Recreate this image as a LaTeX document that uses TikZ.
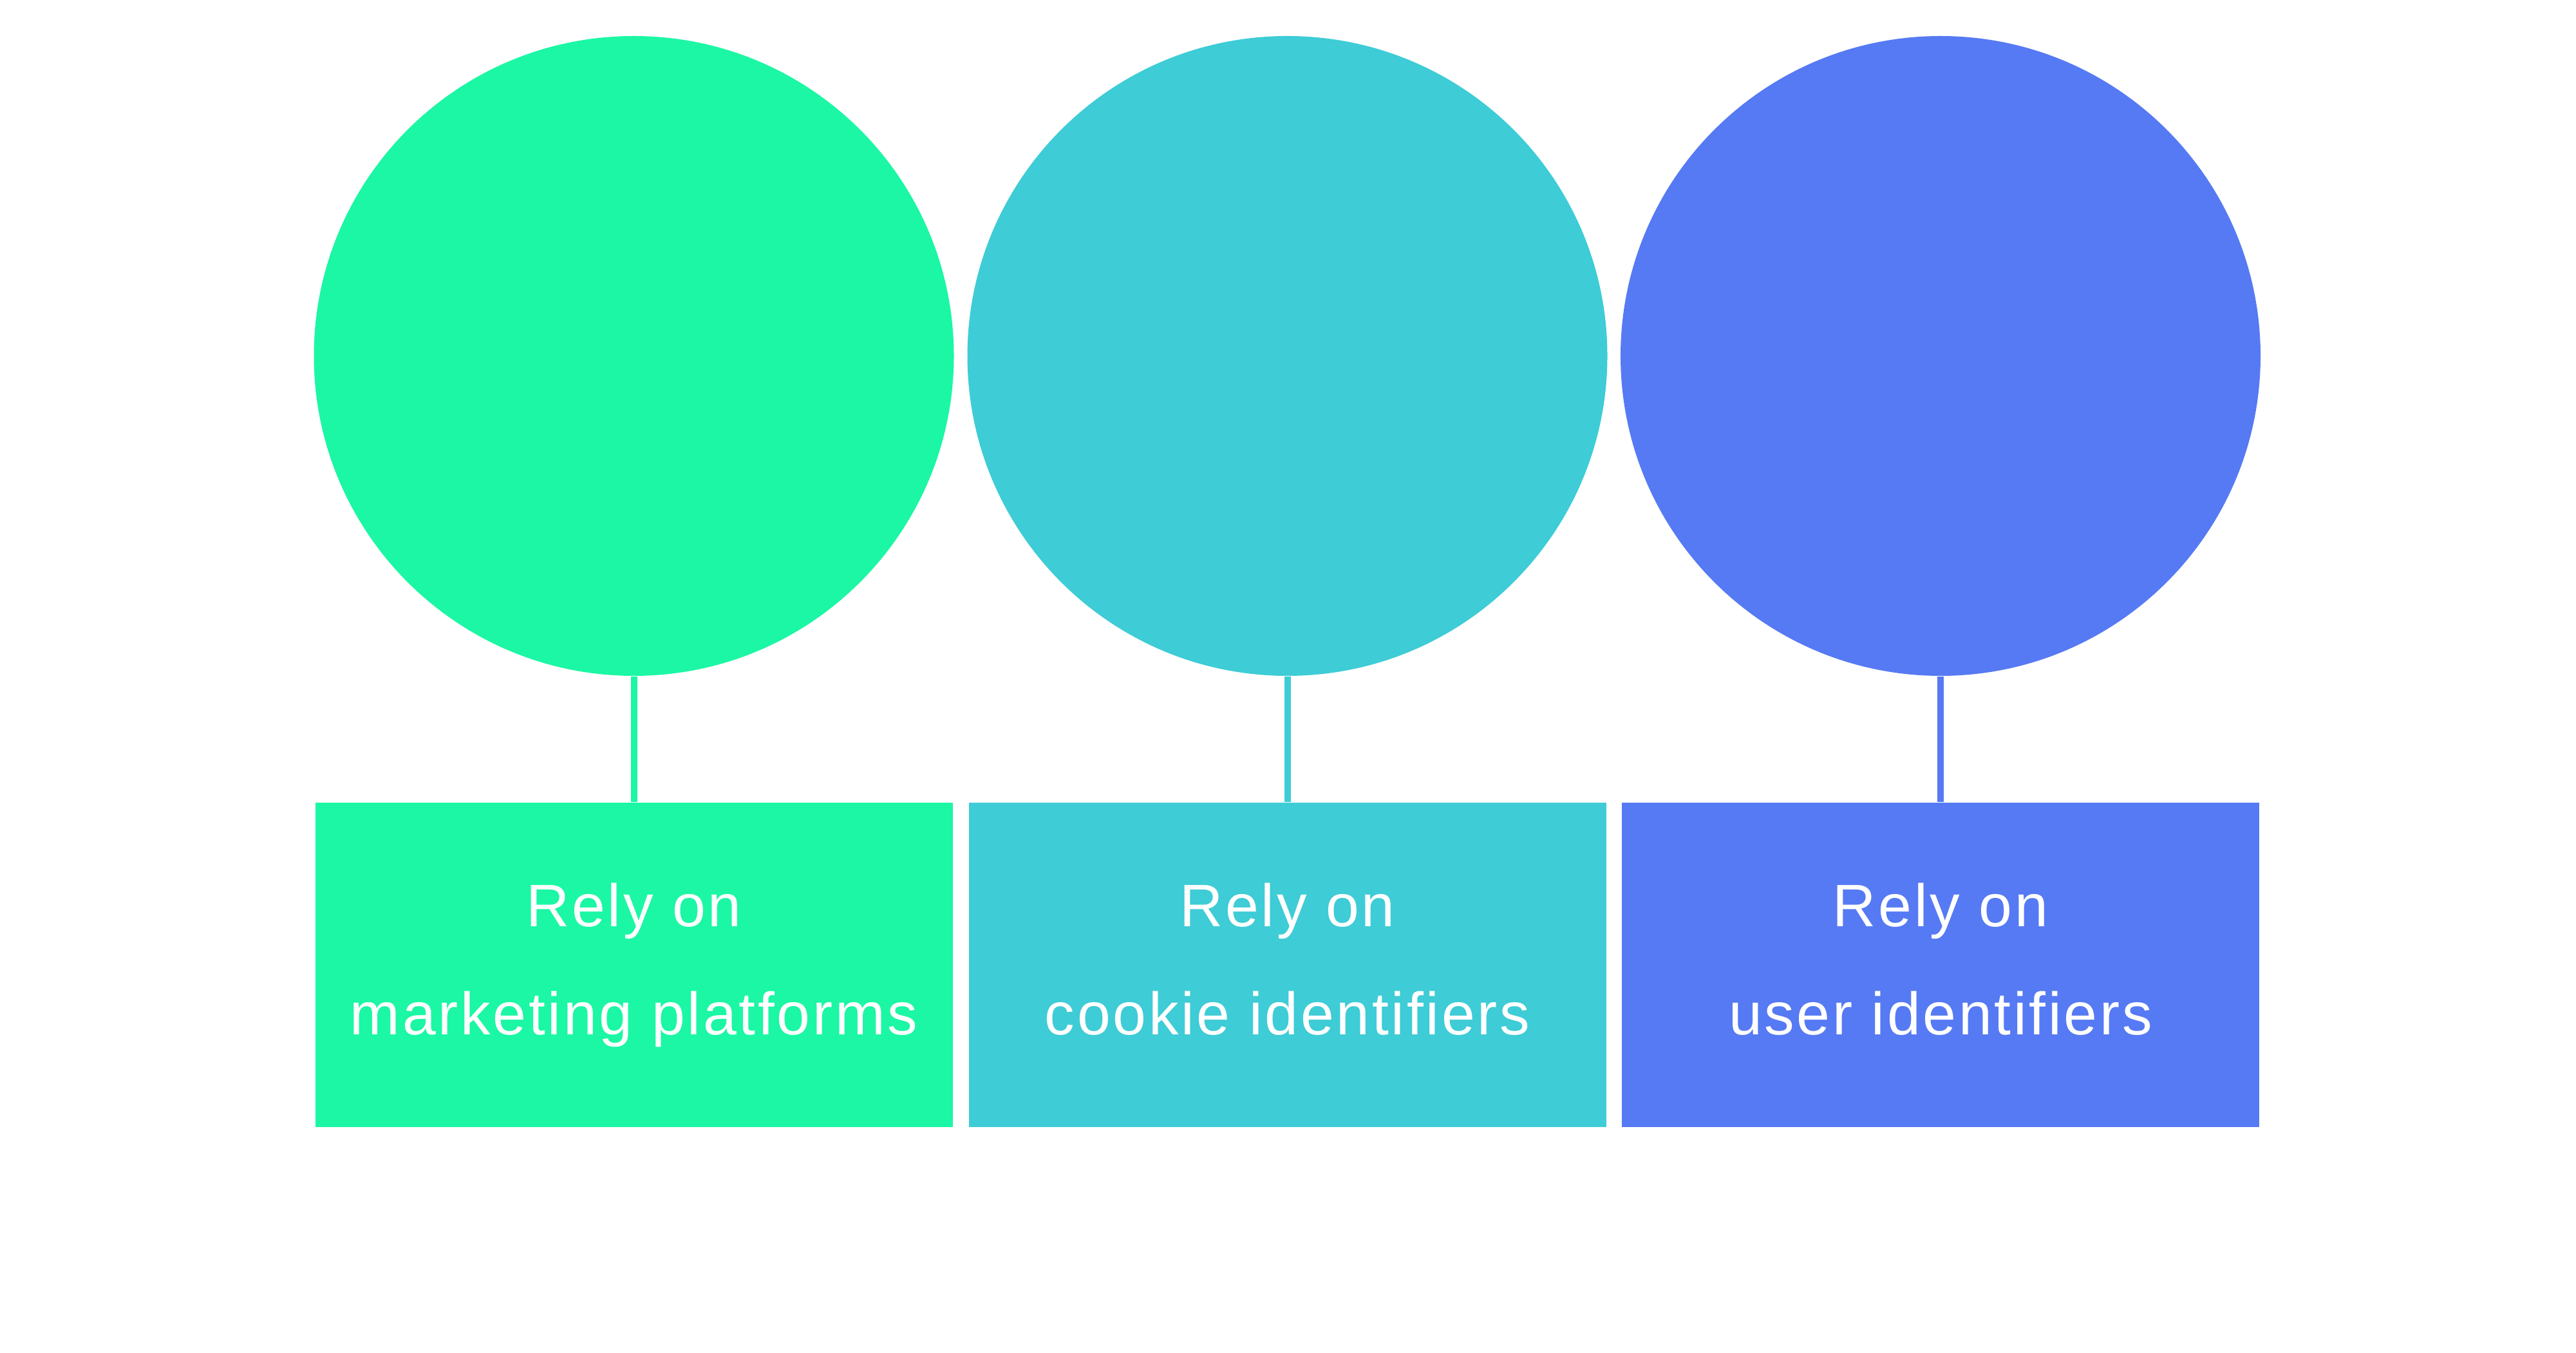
\documentclass[tikz,border=0pt]{standalone}
\usepackage{fontspec}
\setmainfont[LetterSpace=4]{Liberation Sans}
\definecolor{mintgreen}{HTML}{1BF7A4}
\definecolor{tealblue}{HTML}{3ECCD6}
\definecolor{royalblue}{HTML}{567AF3}
\tikzset{
    bubble/.style={circle, fill=#1, minimum size=9.94cm, inner sep=0pt},
    relybox/.style={rectangle, fill=#1, minimum width=9.9cm, minimum height=5.04cm,
        inner sep=0pt, text=white, align=center, text depth=5.5pt,
        font=\fontsize{26.5}{47.8}\selectfont},
    stem/.style={draw=#1, line width=0.1cm}
}
\begin{document}
\begin{tikzpicture}
    \useasboundingbox (0,0) rectangle (40.01,21.01);

    \node[bubble=mintgreen] (c1) at (9.845,15.48) {};
    \node[bubble=tealblue] (c2) at (19.995,15.48) {};
    \node[bubble=royalblue] (c3) at (30.14,15.48) {};

    \node[relybox=mintgreen] (b1) at (9.845,6.02) {Rely on\\marketing platforms};
    \node[relybox=tealblue] (b2) at (19.995,6.02) {Rely on\\cookie identifiers};
    \node[relybox=royalblue] (b3) at (30.14,6.02) {Rely on\\user identifiers};

    \draw[stem=mintgreen] (c1.south) -- (b1.north);
    \draw[stem=tealblue] (c2.south) -- (b2.north);
    \draw[stem=royalblue] (c3.south) -- (b3.north);
\end{tikzpicture}
\end{document}
